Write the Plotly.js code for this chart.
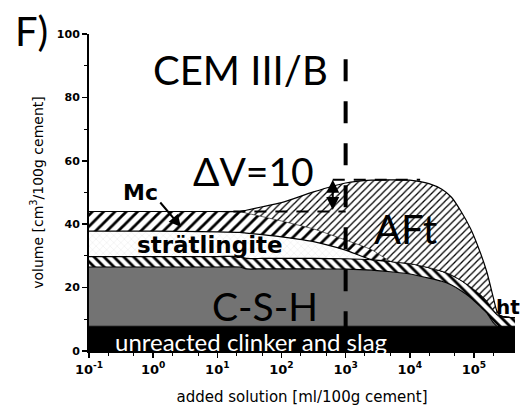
<!DOCTYPE html>
<html>
<head>
<meta charset="utf-8">
<script src="https://cdn.plot.ly/plotly-3.0.1.min.js"></script>
<style>
  html, body { margin: 0; padding: 0; background: #fff; }
  #chart { width: 522px; height: 413px; }
</style>
</head>
<body>
<div id="chart"></div>
<script>
// Added solution [ml/100g cement], shared by every phase layer
const solution = [0.1, 1, 10, 22.4, 28.2, 50.1, 100, 316, 1000, 2512, 5012, 10000,
  19953, 31623, 44668, 63096, 89125, 125893, 158489, 199526, 229087, 263027, 316228, 436516];

// Cumulative upper boundary of each phase, volume [cm3/100g cement]
const clinkerTop = [7.8, 7.8, 7.8, 7.8, 7.8, 7.8, 7.8, 7.8, 7.8, 7.8, 7.8, 7.8,
  7.8, 7.8, 7.8, 7.8, 7.8, 7.8, 7.8, 7.8, 7.8, 7.8, 7.8, 7.8];
const cshTop = [26.5, 26.5, 26.5, 26.5, 25.9, 25.9, 25.9, 25.9, 25.8, 25.5, 25.0, 24.3,
  23.0, 22.0, 20.8, 19.0, 16.8, 14.0, 12.0, 9.0, 7.8, 7.8, 7.8, 7.8];
const htTop = [29.8, 29.8, 29.8, 29.8, 29.2, 29.2, 29.2, 29.2, 29.1, 28.8, 28.3, 27.6,
  26.3, 25.2, 24.0, 22.3, 20.2, 17.8, 15.8, 13.0, 11.6, 11.0, 10.7, 10.5];
const stratTop = [37.8, 37.8, 37.6, 37.4, 37.2, 36.7, 36.0, 34.5, 31.8, 28.8, 28.3, 27.6,
  26.3, 25.2, 24.0, 22.3, 20.2, 17.8, 15.8, 13.0, 11.6, 11.0, 10.7, 10.5];
const mcTop = [44.0, 44.0, 44.0, 44.0, 43.5, 42.4, 41.0, 38.5, 35.0, 32.0, 28.3, 27.6,
  26.3, 25.2, 24.0, 22.3, 20.2, 17.8, 15.8, 13.0, 11.6, 11.0, 10.7, 10.5];
const aftTop = [44.0, 44.0, 44.0, 44.0, 44.4, 45.5, 46.8, 50.2, 53.0, 53.9, 54.0, 53.9,
  52.8, 51.0, 48.5, 44.0, 38.5, 31.0, 25.0, 17.0, 12.5, 11.0, 10.7, 10.5];

// Axis ticks
const xTickVals = [0.1, 1, 10, 100, 1000, 10000, 100000];
const xTickText = ['10<sup>-1</sup>', '10<sup>0</sup>', '10<sup>1</sup>', '10<sup>2</sup>',
  '10<sup>3</sup>', '10<sup>4</sup>', '10<sup>5</sup>'];
const yTickVals = [0, 20, 40, 60, 80, 100];

// Marked dose and the volume increase across it
const markedDose = 1000;
const markedLineTop = 92;
const deltaVBase = 44;
const deltaV = 10;
const deltaVFrom = 17.8;    // start of the lower reference line
const deltaVTo = 14500;     // end of the upper reference line
const deltaVArrowAt = 630;  // position of the double arrow

const outline = { color: '#000', width: 1.2 };

function layer(name, top, fill, extra) {
  return Object.assign({
    type: 'scatter', mode: 'lines', name: name,
    x: solution, y: top,
    fill: fill, hoverinfo: 'skip'
  }, extra);
}

const traces = [
  layer('unreacted clinker and slag', clinkerTop, 'tozeroy', {
    line: { color: '#000', width: 1 }, fillcolor: '#000'
  }),
  layer('C-S-H', cshTop, 'tonexty', {
    line: Object.assign({ shape: 'spline', smoothing: 0.6 }, outline), fillcolor: '#737373'
  }),
  layer('ht', htTop, 'tonexty', {
    line: Object.assign({ shape: 'spline', smoothing: 0.6 }, outline),
    fillpattern: { shape: '\\', size: 7, solidity: 0.4, fgcolor: '#000', bgcolor: '#fff' }
  }),
  layer('strätlingite', stratTop, 'tonexty', {
    line: Object.assign({ shape: 'spline', smoothing: 0.5 }, outline),
    fillpattern: { shape: 'x', size: 5, solidity: 0.12, fgcolor: '#dcdcdc', bgcolor: '#fff' }
  }),
  layer('Mc', mcTop, 'tonexty', {
    line: { color: '#000', width: 0.6, shape: 'spline', smoothing: 0.5 },
    fillpattern: { shape: '/', size: 8, solidity: 0.35, fgcolor: '#000', bgcolor: '#fff' }
  }),
  layer('AFt', aftTop, 'tonexty', {
    line: Object.assign({ shape: 'spline', smoothing: 0.8 }, outline),
    fillpattern: { shape: '/', size: 5, solidity: 0.25, fgcolor: '#000', bgcolor: '#fff' }
  })
];

const L = Math.log10;
const W = 426, H = 317, LEFT = 89, BOTTOM = 351;
const px = v => (v - LEFT) / W;
const py = v => (BOTTOM - v) / H;

const bigFont = (size, color) => ({ family: 'Lato, "Open Sans", sans-serif', size: size, color: color || '#000' });
const boldFont = size => ({ family: '"DejaVu Sans", sans-serif', size: size, color: '#000', weight: 'bold' });

function label(text, x, y, font, extra) {
  return Object.assign({
    text: text, xref: 'paper', yref: 'paper', x: px(x), y: py(y),
    showarrow: false, font: font, xanchor: 'center', yanchor: 'middle'
  }, extra || {});
}

const annotations = [
  label('F)', 31, 31, bigFont(40)),
  label('CEM III/B', 240, 70, bigFont(40)),
  label('ΔV=10', 253, 171, bigFont(39)),
  label('AFt', 405, 229, bigFont(40)),
  label('C-S-H', 265, 306, bigFont(39)),
  label('unreacted clinker and slag', 251, 341, bigFont(24, '#fff')),
  label('strätlingite', 210, 245, boldFont(23)),
  label('Mc', 140, 192, boldFont(22)),
  label('ht', 494, 307, boldFont(20), { xanchor: 'left' }),
  {
    text: '', xref: 'paper', yref: 'paper', x: px(181), y: py(227),
    ax: -22, ay: -26, showarrow: true, arrowhead: 2, arrowsize: 1.2,
    arrowwidth: 2, arrowcolor: '#000'
  },
  {
    text: '', xref: 'x', yref: 'y', x: L(deltaVArrowAt), y: deltaVBase + deltaV,
    axref: 'x', ayref: 'y', ax: L(deltaVArrowAt), ay: deltaVBase,
    showarrow: true, arrowside: 'end+start', arrowhead: 2, startarrowhead: 2,
    arrowsize: 1.3, startarrowsize: 1.3, arrowwidth: 2, arrowcolor: '#000'
  }
];

// Shapes on a log axis take plain data values here
const shapes = [
  {
    type: 'line', xref: 'x', yref: 'y', layer: 'above',
    x0: markedDose, x1: markedDose, y0: markedLineTop, y1: 0,
    line: { color: '#000', width: 4, dash: '22px,20px' }
  },
  {
    type: 'line', xref: 'x', yref: 'y', layer: 'above',
    x0: deltaVFrom, x1: markedDose, y0: deltaVBase, y1: deltaVBase,
    line: { color: '#000', width: 2, dash: '12px,9px' }
  },
  {
    type: 'line', xref: 'x', yref: 'y', layer: 'above',
    x0: deltaVArrowAt, x1: deltaVTo, y0: deltaVBase + deltaV, y1: deltaVBase + deltaV,
    line: { color: '#000', width: 2, dash: '12px,9px' }
  }
];

const tickFont = { family: '"DejaVu Sans", sans-serif', size: 13, color: '#000', weight: 'bold' };

const layout = {
  width: 522, height: 413,
  margin: { l: 89, r: 7, t: 34, b: 62, pad: 0 },
  paper_bgcolor: '#fff', plot_bgcolor: '#fff',
  showlegend: false,
  xaxis: {
    type: 'log', range: [-1, 5.64],
    tickmode: 'array', tickvals: xTickVals, ticktext: xTickText,
    ticks: 'outside', ticklen: 5, tickwidth: 1.5, tickcolor: '#000',
    minor: { ticks: 'outside', ticklen: 3, tickwidth: 1, tickcolor: '#000', showgrid: false },
    showline: true, linewidth: 2, linecolor: '#000', mirror: false,
    showgrid: false, zeroline: false,
    tickfont: tickFont,
    title: { text: 'added solution [ml/100g cement]', font: { family: '"DejaVu Sans", sans-serif', size: 15, color: '#000' }, standoff: 16 }
  },
  yaxis: {
    range: [0, 100],
    tickmode: 'array', tickvals: yTickVals,
    ticks: 'outside', ticklen: 5, tickwidth: 1.5, tickcolor: '#000',
    minor: { tickmode: 'linear', tick0: 10, dtick: 20, ticks: 'outside', ticklen: 3, tickwidth: 1, tickcolor: '#000', showgrid: false },
    showline: true, linewidth: 2, linecolor: '#000',
    showgrid: false, zeroline: false,
    tickfont: { family: '"DejaVu Sans", sans-serif', size: 11, color: '#000', weight: 'bold' },
    title: { text: 'volume [cm<sup>3</sup>/100g cement]', font: { family: '"DejaVu Sans", sans-serif', size: 14, color: '#000' }, standoff: 10 }
  },
  annotations: annotations,
  shapes: shapes
};

Plotly.newPlot('chart', traces, layout, { staticPlot: true, displayModeBar: false });
</script>
</body>
</html>
